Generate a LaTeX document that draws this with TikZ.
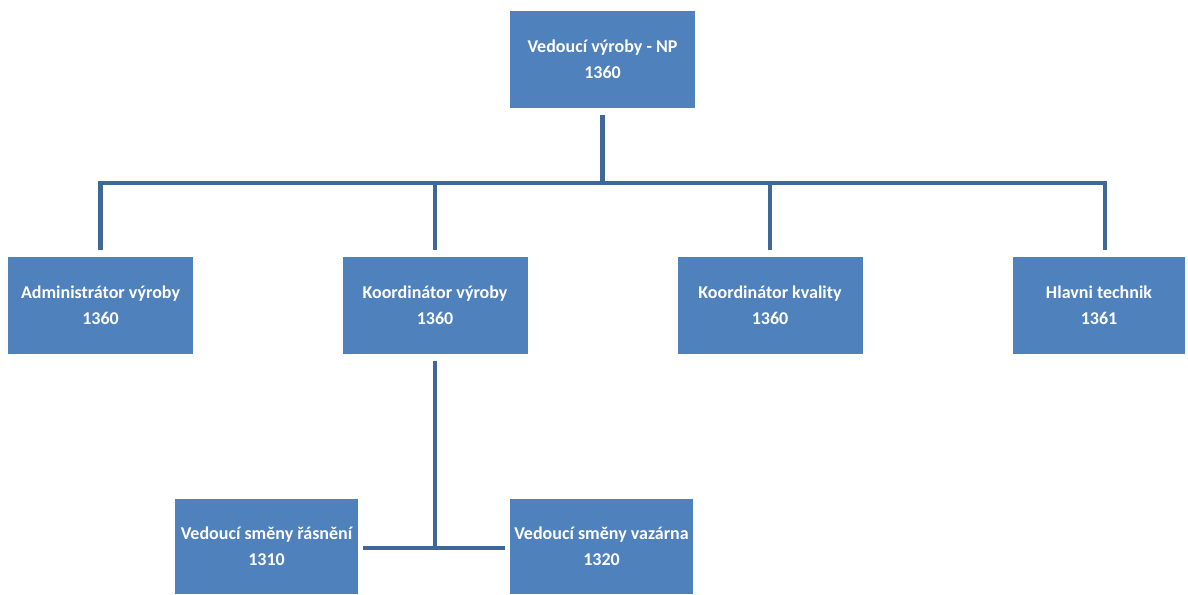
\documentclass[tikz,border=0pt]{standalone}
\usepackage{fontspec}
\setmainfont{Carlito}
\definecolor{boxblue}{HTML}{4F81BD}
\definecolor{linkblue}{HTML}{3F6899}
\begin{document}
\begin{tikzpicture}[x=1pt,y=-1pt,
  orgbox/.style={rectangle, fill=boxblue, draw=none, text=white, inner sep=0pt,
    minimum width=185pt, minimum height=97pt, align=center,
    font=\fontsize{18}{26}\selectfont\bfseries},
  link/.style={draw=linkblue, line width=4.5pt}]
\useasboundingbox (0,0) rectangle (1188,594);

% top level
\node[orgbox] (top) at (602.5,59.5) {Vedoucí výroby - NP\\1360};

% second level
\node[orgbox] (admin) at (100.5,305) {Administrátor výroby\\1360};
\node[orgbox] (koord) at (435,305) {Koordinátor výroby\\1360};
\node[orgbox] (kval) at (770,305) {Koordinátor kvality\\1360};
\node[orgbox, minimum width=172pt] (tech) at (1099,305) {Hlavni technik\\1361};

% third level
\node[orgbox, minimum width=183pt, minimum height=95pt] (ras) at (266.5,546.5) {Vedoucí směny řásnění\\1310};
\node[orgbox, minimum width=183pt, minimum height=95pt] (vaz) at (601.5,546.5) {Vedoucí směny vazárna\\1320};

% junctions
\coordinate (bus) at (602.5,183);
\coordinate (sub) at (435,548);
\coordinate (techtop) at ([xshift=6pt]tech.north);

% connectors
\draw[link, shorten <=7pt] (top.south) -- (bus);
\draw[link, shorten <=6pt, shorten >=6pt]
  (admin.north) -- (admin.north |- bus) -- (techtop |- bus) -- (techtop);
\draw[link, shorten >=6pt] (koord.north |- bus) -- (koord.north);
\draw[link, shorten >=6pt] (kval.north |- bus) -- (kval.north);
\draw[link, shorten <=7pt] (koord.south) -- (sub);
\draw[link, shorten <=5pt, shorten >=5pt] (ras.east |- sub) -- (vaz.west |- sub);
\end{tikzpicture}
\end{document}
